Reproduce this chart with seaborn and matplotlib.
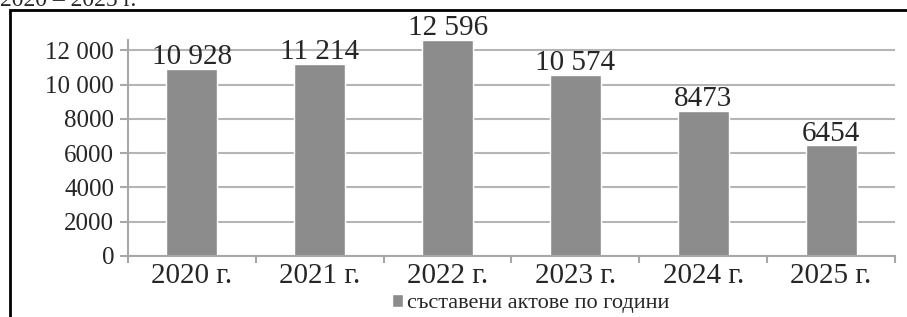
import matplotlib
matplotlib.use('Agg')
import matplotlib.pyplot as plt
import seaborn as sns
from matplotlib.patches import Rectangle
from matplotlib.ticker import FixedLocator, FuncFormatter

# Data
years = ['2020 г.', '2021 г.', '2022 г.', '2023 г.', '2024 г.', '2025 г.']
acts = [10928, 11214, 12596, 10574, 8473, 6454]
series_name = 'съставени актове по години'


def fmt_num(v, pos=None):
    v = int(round(v))
    if v >= 10000:
        return f'{v:,}'.replace(',', ' ')
    return str(v)


sns.set_theme(style='white')
plt.rcParams['font.family'] = ['Liberation Serif', 'DejaVu Serif']

fig = plt.figure(figsize=(9.07, 3.17), dpi=100)
ax = fig.add_axes([128 / 907, (317 - 256) / 317, (895 - 128) / 907, (256 - 40) / 317])

sns.barplot(x=years, y=acts, color='#8c8c8c', saturation=1, width=0.4,
            ax=ax, label=series_name)
if ax.get_legend() is not None:
    ax.get_legend().remove()

ax.set_ylim(0, 12600)
ax.set_xlim(-0.5, len(years) - 0.5)
ax.yaxis.set_major_locator(FixedLocator(range(0, 12001, 2000)))
ax.yaxis.set_major_formatter(FuncFormatter(fmt_num))
ax.yaxis.grid(True, color='#b5b5b5', lw=1.5)
ax.set_axisbelow(True)

for s in ['top', 'right']:
    ax.spines[s].set_visible(False)
for s in ['left', 'bottom']:
    ax.spines[s].set_color('#a8a8a8')
    ax.spines[s].set_linewidth(1.5)

ax.tick_params(axis='y', which='major', left=True, length=6, width=1.5,
               color='#a8a8a8', labelsize=18, pad=4)
ax.tick_params(axis='x', which='major', length=0, labelsize=21, pad=5)
ax.set_xticks([i - 0.5 for i in range(len(years) + 1)], minor=True)
ax.tick_params(axis='x', which='minor', bottom=True, length=5, width=1.5,
               color='#a8a8a8')
ax.set_xlabel('')
ax.set_ylabel('')

ax.bar_label(ax.containers[0], labels=[fmt_num(v) for v in acts],
             fontsize=21, padding=-1)

handles, labels = ax.get_legend_handles_labels()
fig.legend(handles, labels, loc='lower center', bbox_to_anchor=(0.585, -0.052),
           frameon=False, fontsize=16, handlelength=0.5, handleheight=0.5,
           handletextpad=0.15)

# partially visible caption cut off at the top, and outer frame
fig.text(0.0, 1 - 6 / 317, '2020 – 2025 г.', fontsize=17, va='baseline', ha='left')
fig.add_artist(Rectangle((10 / 907, -0.1), 1.2, (1 - 10 / 317) + 0.1,
                         transform=fig.transFigure, fill=False, lw=2,
                         ec='black'))

fig.savefig('out.png', dpi=100)
